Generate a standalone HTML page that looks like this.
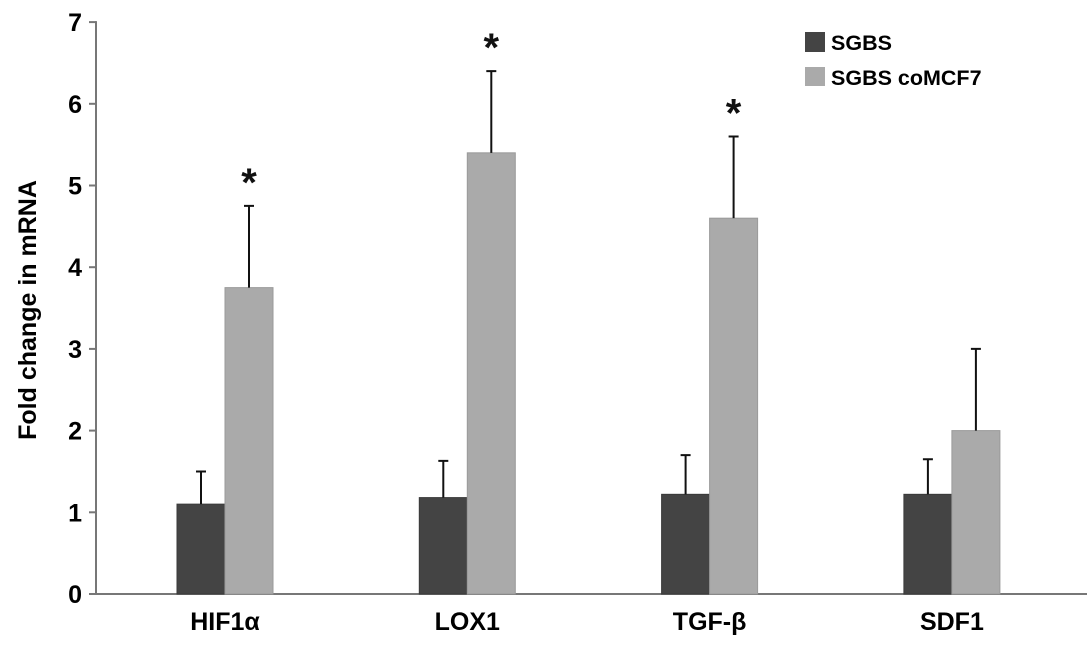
<!DOCTYPE html>
<html><head><meta charset="utf-8"><style>
html,body{margin:0;padding:0;background:#fff;}
svg{display:block;font-family:"Liberation Sans",sans-serif;}
</style></head><body>
<svg id="chart" width="1087" height="648">
<g id="axes"></g><g id="bars"></g>
<text x="36" y="310" transform="rotate(-90 36 310)" text-anchor="middle" font-size="25" font-weight="bold" fill="#000">Fold change in mRNA</text>
<g>
<rect x="805" y="32" width="20" height="20" fill="#444"/>
<text x="831" y="50" font-size="21.5" font-weight="bold" fill="#000">SGBS</text>
<rect x="805" y="67" width="20" height="19" fill="#aaa"/>
<text x="831" y="85" font-size="21.5" font-weight="bold" fill="#000">SGBS coMCF7</text>
</g>
</svg>
<script>
const categories=["HIF1α","LOX1","TGF-β","SDF1"];
const sgbs=[1.1,1.18,1.22,1.22];
const sgbsErr=[0.4,0.45,0.48,0.43];
const comcf7=[3.75,5.4,4.6,2.0];
const comcf7Err=[1.0,1.0,1.0,1.0];
const significant=[true,true,true,false];
const yTicks=[0,1,2,3,4,5,6,7];
const NS="http://www.w3.org/2000/svg";
const y0=594,yk=81.7,x0=96,gStart=177,gStep=242.3,bw=48;
const y=v=>y0-v*yk;
const xg=i=>gStart+i*gStep;
function mk(tag,at,parent){const e=document.createElementNS(NS,tag);for(const k in at)e.setAttribute(k,at[k]);parent.appendChild(e);return e;}
const axes=document.getElementById('axes'),bars=document.getElementById('bars');
let l=mk('line',{x1:x0,y1:y(0),x2:1087,y2:y(0),stroke:'#777','stroke-width':2},axes);


l=mk('line',{x1:x0,y1:y(7)-1,x2:x0,y2:y(0),stroke:'#777','stroke-width':2},axes);


yTicks.forEach(t=>{
 const tk=mk('line',{x1:x0-7,y1:y(t),x2:x0,y2:y(t),stroke:'#777','stroke-width':2},axes);
 
 
 const tx=mk('text',{x:x0-14,y:y(t)+9,'text-anchor':'end','font-size':25,'font-weight':'bold',fill:'#000'},axes);
 tx.textContent=t;
 
 
});
function bar(xl,v,e,fill,name){
 const r=mk('rect',{x:xl,y:y(v),width:bw,height:y(0)-y(v),fill:fill,stroke:fill==='#444'?'#3a3a3a':'#9a9a9a','stroke-width':1},bars);
 
 
 const cx=xl+bw/2;
 const el=mk('path',{d:`M${cx},${y(v)}V${y(v+e)}M${cx-5},${y(v+e)}H${cx+5}`,stroke:'#111','stroke-width':2,fill:'none'},bars);
 
 
}
categories.forEach((c,i)=>{
 const xl=xg(i);
 bar(xl,sgbs[i],sgbsErr[i],'#444','bar-sgbs-'+i);
 bar(xl+bw,comcf7[i],comcf7Err[i],'#aaa','bar-comcf7-'+i);
 if(significant[i]){
  const s=mk('text',{x:xl+bw*1.5,y:y(comcf7[i]+comcf7Err[i])-10,'text-anchor':'middle','font-size':40,'font-weight':'bold',fill:'#111'},bars);
  s.textContent='*';
  
  
 }
 const t=mk('text',{x:xl+bw,y:630,'text-anchor':'middle','font-size':25,'font-weight':'bold',fill:'#000'},bars);
 t.textContent=c;
 
 
});
</script>
</body></html>
